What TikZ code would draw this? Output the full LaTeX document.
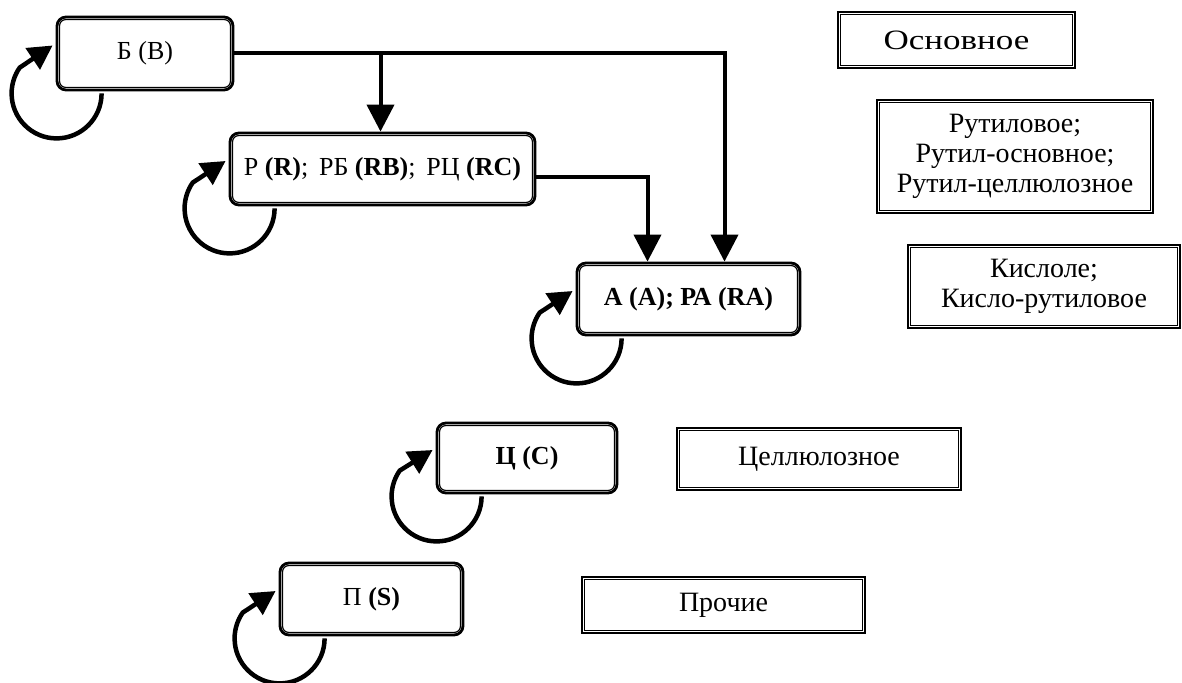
\documentclass[tikz,border=0pt]{standalone}
\usepackage{fontspec}
\setmainfont{Liberation Serif}
\newfontfamily\widefont[FakeStretch=1.25]{Liberation Serif}
\usetikzlibrary{arrows.meta,calc}
\newcommand{\innerframe}[2]{\draw[line width=1.2pt, rounded corners=#2] ($(#1.north west)+(4,4)$) rectangle ($(#1.south east)+(-4,-4)$);}
\newcommand{\selfloop}[1]{\draw[loopline] ($(#1.south west)+(46,2)$) arc[start angle=0,end angle=215,radius=45] -- ($(#1.west)+(-3,-8)$);}
\tikzset{
  rbox/.style={draw, line width=2.8pt, rounded corners=9pt, minimum width=#1, inner sep=0pt, align=center, font=\fontsize{26}{31}\selectfont},
  sbox/.style={draw, line width=2.8pt, minimum width=#1, inner sep=0pt, align=center, font=\fontsize{28}{30}\selectfont},
  conn/.style={line width=4pt, -{Triangle[length=27pt,width=27pt]}},
  loopline/.style={line width=4.5pt, -{Triangle[length=24pt,width=25pt]}}
}
\begin{document}
\begin{tikzpicture}[x=1pt,y=-1pt]
\useasboundingbox (0,0) rectangle (1182,682);
% left column boxes
\node[rbox=176pt, minimum height=73pt] (b) at (145,53.5) {Б (B)};
\node[rbox=305pt, minimum height=72pt] (p) at (382.5,169) {Р \textbf{(R)};\, РБ \textbf{(RB)};\, РЦ \textbf{(RC)}};
\node[rbox=223pt, minimum height=72pt] (a) at (688.5,299) {\textbf{А (A); РА (RA)}};
\node[rbox=180pt, minimum height=70pt] (c) at (527,458) {\textbf{Ц (C)}};
\node[rbox=183pt, minimum height=72pt] (s) at (371.5,599) {П \textbf{(S)}};
\foreach \n in {b,p,a,c,s} {\innerframe{\n}{6pt}}
% right column boxes
\node[sbox=237pt, minimum height=56pt] (osn) at (956.5,40) {\widefont Основное};
\node[sbox=276pt, minimum height=113pt] (rut) at (1015,156.5) {Рутиловое;\\Рутил-основное;\\Рутил-целлюлозное};
\node[sbox=272pt, minimum height=83pt] (kis) at (1044,286.5) {Кислоле;\\Кисло-рутиловое};
\node[sbox=284pt, minimum height=62pt] (cel) at (819,459) {Целлюлозное};
\node[sbox=283pt, minimum height=56pt] (pro) at (723.5,605) {Прочие};
\foreach \n in {osn,rut,kis,cel,pro} {\innerframe{\n}{0pt}}
% connectors
\coordinate (pn) at ($(p.north)+(-2,0)$);
\coordinate (an1) at ($(a.north)+(36,0)$);
\coordinate (an2) at ($(a.north)+(-41,0)$);
\coordinate (pe) at ($(p.east)+(0,8)$);
\draw[conn] (b.east) -| (an1);
\draw[conn] (pn |- b.east) -- (pn);
\draw[conn] (pe) -| (an2);
% self loops
\foreach \n in {b,p,a,c,s} {\selfloop{\n}}
\end{tikzpicture}
\end{document}
